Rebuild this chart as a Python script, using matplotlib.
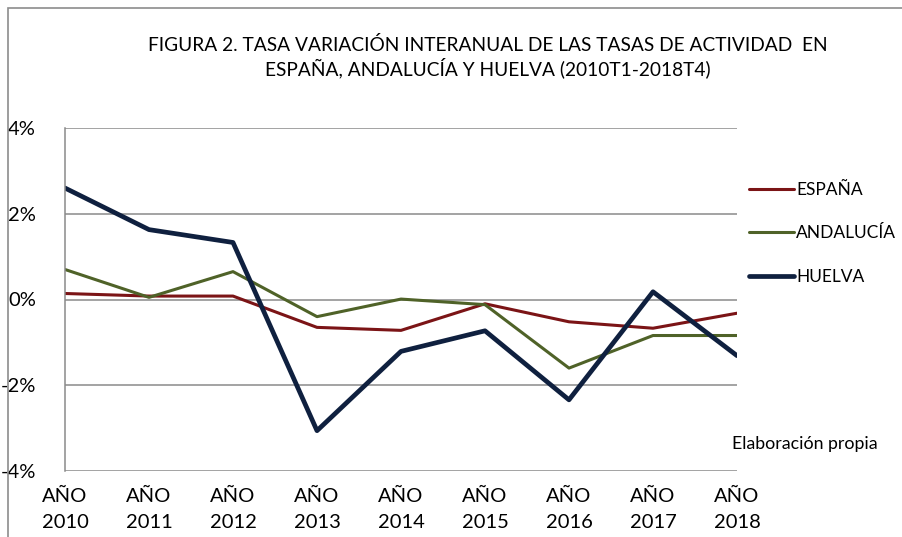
import matplotlib
matplotlib.use("Agg")
import matplotlib.pyplot as plt
from matplotlib.patches import Rectangle

years = ["2010", "2011", "2012", "2013", "2014", "2015", "2016", "2017", "2018"]
tick_labels = ["AÑO\n" + y for y in years]
espana = [0.14, 0.08, 0.08, -0.65, -0.72, -0.10, -0.52, -0.67, -0.32]
andalucia = [0.70, 0.05, 0.65, -0.40, 0.01, -0.12, -1.60, -0.84, -0.84]
huelva = [2.60, 1.63, 1.33, -3.06, -1.21, -0.73, -2.34, 0.18, -1.31]
yticks = [-4, -2, 0, 2, 4]

plt.rcParams['font.family'] = ['Lato', 'DejaVu Sans']

fig = plt.figure(figsize=(9.02, 5.37), dpi=100)
fig.patches.append(Rectangle((8/902, -0.1), 1.2, 1 - 8/537 + 0.1, transform=fig.transFigure,
                             fill=False, edgecolor='#8c8c8c', linewidth=1.2))
ax = fig.add_axes([65/902, 1 - 471/537, (737 - 65)/902, (471 - 128)/537])

x = list(range(len(years)))
ax.plot(x, espana, color='#7B1416', lw=2.2, label='ESPAÑA', solid_capstyle='round')
ax.plot(x, andalucia, color='#4F6228', lw=2.2, label='ANDALUCÍA', solid_capstyle='round')
ax.plot(x, huelva, color='#0F203F', lw=3.4, label='HUELVA', solid_capstyle='round')

ax.set_xlim(0, len(years) - 1)
ax.set_ylim(-4, 4)
ax.set_yticks(yticks)
ax.set_yticklabels([f"{v}%" for v in yticks])
ax.set_xticks(x)
ax.set_xticklabels(tick_labels, linespacing=1.65)
ax.grid(axis='y', color='#8a8a8a', lw=1.1)
ax.set_axisbelow(True)
for s in ['top', 'right', 'bottom']:
    ax.spines[s].set_visible(False)
ax.spines['left'].set_color('#8a8a8a')
ax.spines['left'].set_linewidth(1.1)
ax.tick_params(axis='both', length=0, labelsize=14.5, colors='black')
ax.tick_params(axis='y', pad=21)
ax.tick_params(axis='x', pad=12)

leg = fig.legend(loc='upper left', bbox_to_anchor=(733/902, 1 - 166/537), frameon=False,
                 fontsize=12.5, handlelength=2.6, handletextpad=0.15, labelspacing=1.6)

fig.text(488/902, 1 - 45/537, "FIGURA 2. TASA VARIACIÓN INTERANUAL DE LAS TASAS DE ACTIVIDAD  EN",
         ha='center', va='center', fontsize=13.8)
fig.text(488/902, 1 - 68/537, "ESPAÑA, ANDALUCÍA Y HUELVA (2010T1-2018T4)",
         ha='center', va='center', fontsize=13.8)
fig.text(805/902, 1 - 444/537, "Elaboración propia", ha='center', va='center', fontsize=12.8)

fig.savefig("out.png", dpi=100)
